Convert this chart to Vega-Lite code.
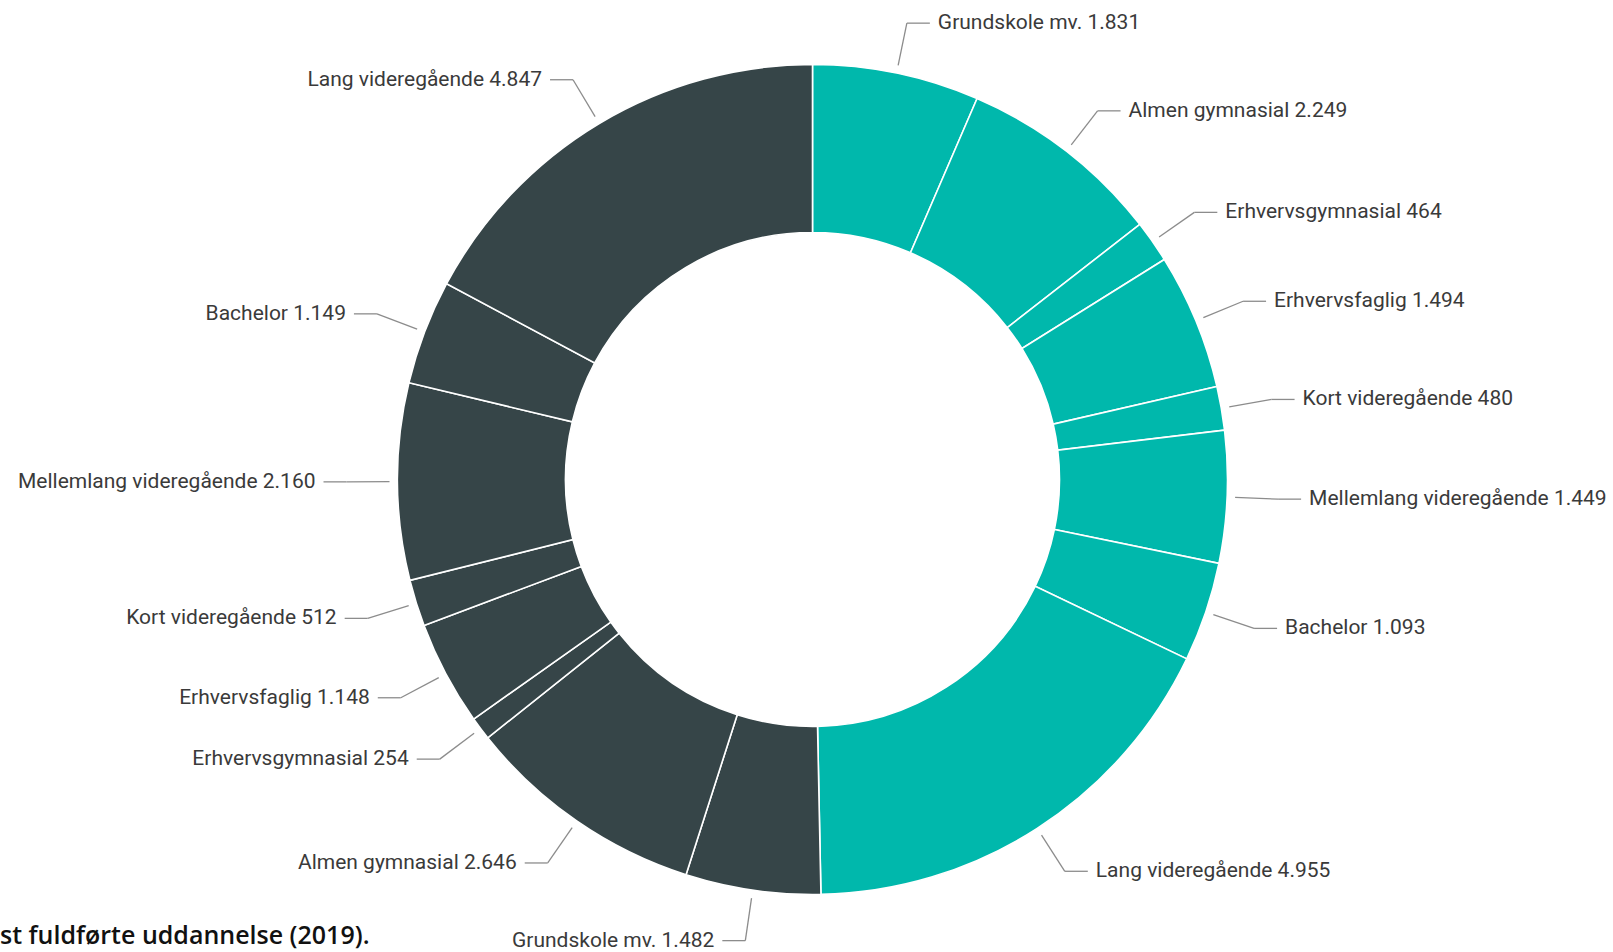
{
  "$schema": "https://vega.github.io/schema/vega-lite/v6.json",
  "width": 1625,
  "height": 959,
  "autosize": "none",
  "padding": 0,
  "background": "white",
  "config": {"view": {"stroke": null}},
  "title": {
    "text": "st fuldførte uddannelse (2019).",
    "orient": "bottom",
    "anchor": "start",
    "frame": "group",
    "offset": -15,
    "baseline": "alphabetic",
    "font": "Open Sans",
    "fontSize": 25,
    "fontWeight": 600,
    "color": "#111111"
  },
  "data": {
    "values": [
      {"idx": 0, "group": "A", "value": 1831, "label": "Grundskole mv. 1.831"},
      {"idx": 1, "group": "A", "value": 2249, "label": "Almen gymnasial 2.249"},
      {"idx": 2, "group": "A", "value": 464, "label": "Erhvervsgymnasial 464"},
      {"idx": 3, "group": "A", "value": 1494, "label": "Erhvervsfaglig 1.494"},
      {"idx": 4, "group": "A", "value": 480, "label": "Kort videregående 480"},
      {"idx": 5, "group": "A", "value": 1449, "label": "Mellemlang videregående 1.449"},
      {"idx": 6, "group": "A", "value": 1093, "label": "Bachelor 1.093"},
      {"idx": 7, "group": "A", "value": 4955, "label": "Lang videregående 4.955"},
      {"idx": 8, "group": "B", "value": 1482, "label": "Grundskole mv. 1.482"},
      {"idx": 9, "group": "B", "value": 2646, "label": "Almen gymnasial 2.646"},
      {"idx": 10, "group": "B", "value": 254, "label": "Erhvervsgymnasial 254"},
      {"idx": 11, "group": "B", "value": 1148, "label": "Erhvervsfaglig 1.148"},
      {"idx": 12, "group": "B", "value": 512, "label": "Kort videregående 512"},
      {"idx": 13, "group": "B", "value": 2160, "label": "Mellemlang videregående 2.160"},
      {"idx": 14, "group": "B", "value": 1149, "label": "Bachelor 1.149"},
      {"idx": 15, "group": "B", "value": 4847, "label": "Lang videregående 4.847"}
    ]
  },
  "transform": [
    {"window": [{"op": "sum", "field": "value", "as": "cum"}], "sort": [{"field": "idx"}], "frame": [null, 0]},
    {"joinaggregate": [{"op": "sum", "field": "value", "as": "total"}]},
    {"calculate": "(datum.cum - datum.value / 2) / datum.total * 2 * PI", "as": "mid"},
    {"calculate": "datum.mid < PI ? 1 : -1", "as": "side"},
    {"calculate": "423 * sin(datum.mid)", "as": "sx"},
    {"calculate": "423 * cos(datum.mid)", "as": "sy"},
    {"calculate": "466 * sin(datum.mid)", "as": "ex"},
    {"calculate": "466 * cos(datum.mid)", "as": "ey"},
    {"calculate": "datum.ex + datum.side * 23", "as": "hx"},
    {"calculate": "datum.ex + datum.side * 31", "as": "tx"}
  ],
  "layer": [
    {
      "mark": {"type": "arc", "outerRadius": 415, "innerRadius": 247, "stroke": "white", "strokeWidth": 1.6},
      "encoding": {
        "theta": {"field": "value", "type": "quantitative", "stack": true},
        "color": {"field": "group", "type": "nominal", "scale": {"domain": ["A", "B"], "range": ["#00b8ac", "#364548"]}, "legend": null},
        "order": {"field": "idx", "type": "quantitative"}
      }
    },
    {
      "mark": {"type": "rule", "color": "#8c8c8c", "strokeWidth": 1.3},
      "encoding": {
        "x": {"field": "sx", "type": "quantitative", "scale": {"domain": [-812.5, 812.5], "nice": false, "zero": false}, "axis": null},
        "y": {"field": "sy", "type": "quantitative", "scale": {"domain": [-479.5, 479.5], "nice": false, "zero": false}, "axis": null},
        "x2": {"field": "ex"},
        "y2": {"field": "ey"}
      }
    },
    {
      "mark": {"type": "rule", "color": "#8c8c8c", "strokeWidth": 1.3},
      "encoding": {
        "x": {"field": "ex", "type": "quantitative"},
        "y": {"field": "ey", "type": "quantitative"},
        "x2": {"field": "hx"},
        "y2": {"field": "ey"}
      }
    },
    {
      "transform": [{"filter": "datum.side > 0"}],
      "mark": {"type": "text", "align": "left", "baseline": "middle", "font": "Roboto", "fontSize": 21, "color": "#3a3a3a"},
      "encoding": {
        "x": {"field": "tx", "type": "quantitative"},
        "y": {"field": "ey", "type": "quantitative"},
        "text": {"field": "label"}
      }
    },
    {
      "transform": [{"filter": "datum.side < 0"}],
      "mark": {"type": "text", "align": "right", "baseline": "middle", "font": "Roboto", "fontSize": 21, "color": "#3a3a3a"},
      "encoding": {
        "x": {"field": "tx", "type": "quantitative"},
        "y": {"field": "ey", "type": "quantitative"},
        "text": {"field": "label"}
      }
    }
  ]
}
